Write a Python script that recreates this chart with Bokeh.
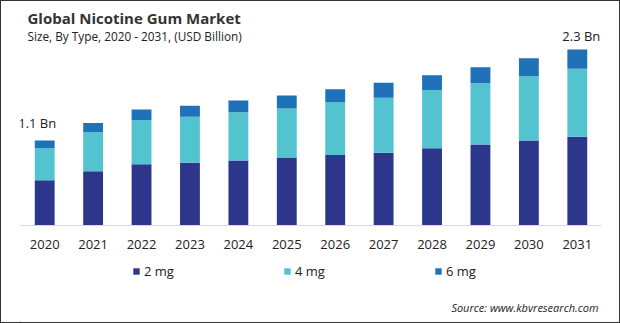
from bokeh.plotting import figure
from bokeh.layouts import column
from bokeh.models import ColumnDataSource, FactorRange, Range1d, Label, Legend, LegendItem
from bokeh.core.properties import value
from bokeh.embed import file_html
from bokeh.resources import INLINE

years = ["2020", "2021", "2022", "2023", "2024", "2025", "2026", "2027", "2028", "2029", "2030", "2031"]
mg2 = [0.59, 0.71, 0.80, 0.82, 0.85, 0.89, 0.92, 0.95, 1.01, 1.06, 1.11, 1.16]
mg4 = [0.42, 0.51, 0.575, 0.60, 0.63, 0.64, 0.69, 0.72, 0.76, 0.80, 0.84, 0.89]
mg6 = [0.10, 0.12, 0.14, 0.145, 0.155, 0.17, 0.17, 0.195, 0.195, 0.21, 0.235, 0.25]
series_names = ["2 mg", "4 mg", "6 mg"]
colors = ["#2C378C", "#53C3D0", "#1F71B8"]

callout_years = ["2020", "2031"]
callout_text = ["1.1 Bn", "2.3 Bn"]
callout_values = [1.11, 2.30]

FONT = "Open Sans"
TXT = "#222222"

src = ColumnDataSource(dict(year=years, s2=mg2, s4=mg4, s6=mg6))

# ---- main chart ----
p = figure(width=618, height=260, x_range=FactorRange(factors=years),
           y_range=Range1d(0, 2.928), output_backend="svg", toolbar_location=None,
           y_axis_location=None, min_border_left=19, min_border_right=18,
           min_border_top=0, min_border_bottom=36)
p.outline_line_color = None
p.xgrid.grid_line_color = None
p.ygrid.grid_line_color = None
p.background_fill_color = "white"
p.border_fill_color = "white"
p.x_range.range_padding = 0

rs = p.vbar_stack(["s2", "s4", "s6"], x="year", width=0.41, source=src,
                  color=colors, line_color=None)

ax = p.xaxis[0]
ax.axis_line_color = "#d9d9d9"
ax.axis_line_width = 1
ax.major_tick_line_color = None
ax.minor_tick_line_color = None
ax.major_tick_out = 0
ax.major_label_standoff = 14
ax.major_label_text_font = FONT
ax.major_label_text_font_size = "13px"
ax.major_label_text_color = TXT

csrc = ColumnDataSource(dict(x=callout_years, y=callout_values, t=callout_text,
                             xo=[-7.5, 4], yo=[-18, -14]))
p.text(x="x", y="y", text="t", x_offset="xo", y_offset="yo", source=csrc,
       text_font=value(FONT), text_font_size="13px", text_color=TXT,
       text_align="center", text_baseline="middle")

p.add_layout(Label(x=7, y=208, x_units="screen", y_units="screen",
                   text="Global Nicotine Gum Market", text_font=FONT,
                   text_font_size="15px", text_font_style="bold",
                   text_color="#333333", text_baseline="alphabetic"))
p.add_layout(Label(x=7, y=190, x_units="screen", y_units="screen",
                   text="Size, By Type, 2020 - 2031, (USD Billion)", text_font=FONT,
                   text_font_size="11.8px", text_color=TXT,
                   text_baseline="alphabetic"))

# ---- legend + source strip (frame aligned with the chart frame) ----
q = figure(width=618, height=61, x_range=Range1d(0, 581), y_range=Range1d(0, 61),
           output_backend="svg", toolbar_location=None,
           x_axis_location=None, y_axis_location=None,
           min_border_left=19, min_border_right=18, min_border_top=0, min_border_bottom=0)
q.outline_line_color = None
q.xgrid.grid_line_color = None
q.ygrid.grid_line_color = None
q.background_fill_color = "white"
q.border_fill_color = "white"

# off-screen stand-ins so the legend can show swatches
icons = [q.vbar(x=[-100], top=[1], width=1, color=c, line_color=None) for c in colors]
legend = Legend(items=[LegendItem(label=n, renderers=[r]) for n, r in zip(series_names, icons)],
                orientation="horizontal", location=(112, 41), glyph_width=8, glyph_height=8,
                label_standoff=4, label_width=30, spacing=109, label_height=20,
                label_text_font=FONT, label_text_font_size="13px", label_text_color=TXT,
                border_line_color=None, background_fill_alpha=0, padding=0, margin=0)
q.add_layout(legend, "center")

q.add_layout(Label(x=578, y=15, text="Source: www.kbvresearch.com", text_font=FONT,
                   text_font_size="11px", text_font_style="italic",
                   text_color=TXT, text_align="right", text_baseline="middle"))

layout = column(p, q, spacing=0)
layout.styles = {"border": "1px solid #333333"}

open("out.html", "w").write(file_html(layout, INLINE))
